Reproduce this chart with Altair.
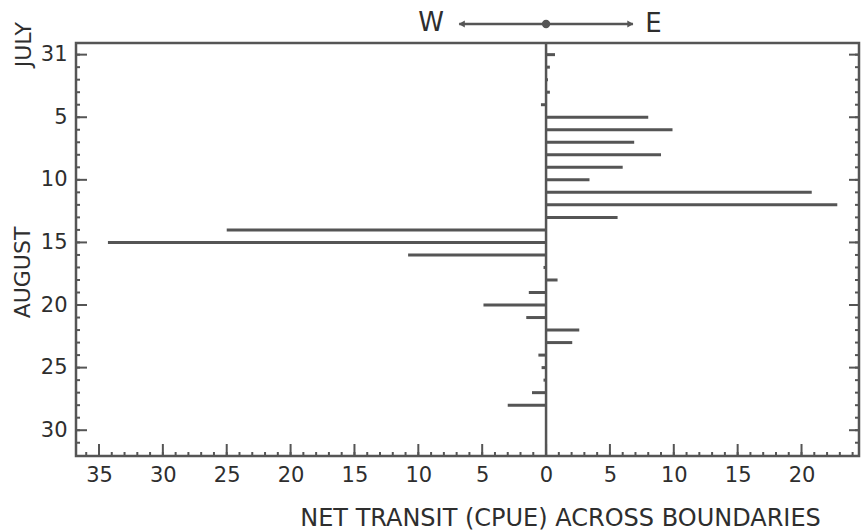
import altair as alt
import pandas as pd

# Day index: 0 = July 31, 1..31 = August 1..31
days = list(range(0, 29))
net_transit = [0.7, 0.3, 0.15, 0.3, -0.4, 8.0, 9.9, 6.9, 9.0, 6.0, 3.4, 20.8, 22.8, 5.6,
               -25.0, -34.3, -10.8, -0.2, 0.9, -1.35, -4.9, -1.55, 2.6, 2.05,
               -0.6, -0.35, -0.2, -1.1, -3.0]

x_major = [-35, -30, -25, -20, -15, -10, -5, 0, 5, 10, 15, 20]
x_minor = list(range(-36, 25))
y_major = [0, 5, 10, 15, 20, 25, 30]
y_minor = list(range(0, 32))

x_domain = [-36.8, 24.5]
y_domain = [-0.93, 32.06]

W, H = 783, 413
FONT = "DejaVu Sans"
INK = "#2e2e2e"
GRAY = "#555555"

df = pd.DataFrame({"day": days, "value": net_transit})

xs = alt.Scale(domain=x_domain, nice=False, zero=False)
ys = alt.Scale(domain=y_domain, nice=False, zero=False, reverse=True)

x_axis = alt.Axis(values=x_major, labelExpr="abs(datum.value)", domain=False, ticks=False,
                  tickSize=0, grid=False, labelFontSize=21, labelFont=FONT, labelColor=INK,
                  labelPadding=8, title="NET TRANSIT (CPUE) ACROSS BOUNDARIES",
                  titleFont=FONT, titleFontSize=24, titleFontWeight="normal", titleColor=INK,
                  titleX=484, titleY=62, titleAlign="center", titleBaseline="middle")
y_axis = alt.Axis(values=y_major, labelExpr="datum.value == 0 ? '31' : datum.value",
                  domain=False, ticks=False, tickSize=0, grid=False, labelFontSize=21,
                  labelFont=FONT, labelColor=INK, labelPadding=9, title=None)

bars = alt.Chart(df).mark_rule(strokeWidth=3, color=GRAY).encode(
    x=alt.X("value:Q", scale=xs, axis=x_axis),
    x2=alt.datum(0),
    y=alt.Y("day:Q", scale=ys, axis=y_axis),
)

zero_line = alt.Chart(pd.DataFrame({"z": [0]})).mark_rule(strokeWidth=2.5, color=GRAY).encode(
    x=alt.X("z:Q", scale=xs)
)

ymaj = pd.DataFrame({"d": y_major})
ymin = pd.DataFrame({"d": y_minor})
xmaj = pd.DataFrame({"v": x_major})
xmin = pd.DataFrame({"v": x_minor})

left_major = alt.Chart(ymaj).mark_rule(strokeWidth=2, color=GRAY).encode(
    y=alt.Y("d:Q", scale=ys), x=alt.value(0), x2=alt.value(11))
left_minor = alt.Chart(ymin).mark_rule(strokeWidth=2, color=GRAY).encode(
    y=alt.Y("d:Q", scale=ys), x=alt.value(0), x2=alt.value(4))
right_major = alt.Chart(ymaj).mark_rule(strokeWidth=2, color=GRAY).encode(
    y=alt.Y("d:Q", scale=ys), x=alt.value(W), x2=alt.value(W - 10))
right_minor = alt.Chart(ymin).mark_rule(strokeWidth=2, color=GRAY).encode(
    y=alt.Y("d:Q", scale=ys), x=alt.value(W), x2=alt.value(W - 4))
bottom_major = alt.Chart(xmaj).mark_rule(strokeWidth=2, color=GRAY).encode(
    x=alt.X("v:Q", scale=xs), y=alt.value(H), y2=alt.value(H - 12))
bottom_minor = alt.Chart(xmin).mark_rule(strokeWidth=2, color=GRAY).encode(
    x=alt.X("v:Q", scale=xs), y=alt.value(H), y2=alt.value(H - 4))

one = pd.DataFrame({"k": [0]})

july = alt.Chart(one).mark_text(text="JULY", angle=270, font=FONT, fontSize=22, color=INK,
                                align="center", baseline="middle").encode(
    x=alt.value(-52), y=alt.Y(datum=-0.8, scale=ys))
august = alt.Chart(one).mark_text(text="AUGUST", angle=270, font=FONT, fontSize=22, color=INK,
                                  align="center", baseline="middle").encode(
    x=alt.value(-53), y=alt.Y(datum=17.4, scale=ys))

w_text = alt.Chart(one).mark_text(text="W", font=FONT, fontSize=26, color=INK,
                                  align="center", baseline="middle").encode(
    x=alt.X(datum=-9.0, scale=xs), y=alt.value(-20))
e_text = alt.Chart(one).mark_text(text="E", font=FONT, fontSize=26, color=INK,
                                  align="center", baseline="middle").encode(
    x=alt.X(datum=8.4, scale=xs), y=alt.value(-19))
arrow_line = alt.Chart(one).mark_rule(strokeWidth=2.5, color=GRAY).encode(
    x=alt.X(datum=-6.8, scale=xs), x2=alt.datum(6.8), y=alt.value(-19))
arrow_left = alt.Chart(one).mark_point(shape="triangle-left", filled=True, size=50,
                                       color=GRAY, opacity=1).encode(
    x=alt.X(datum=-6.6, scale=xs), y=alt.value(-19))
arrow_right = alt.Chart(one).mark_point(shape="triangle-right", filled=True, size=50,
                                        color=GRAY, opacity=1).encode(
    x=alt.X(datum=6.6, scale=xs), y=alt.value(-19))
dot = alt.Chart(one).mark_point(shape="circle", filled=True, size=70, color=GRAY,
                                opacity=1).encode(
    x=alt.X(datum=0, scale=xs), y=alt.value(-19))

chart = alt.layer(
    bars, zero_line, left_major, left_minor, right_major, right_minor,
    bottom_major, bottom_minor, july, august, w_text, e_text, arrow_line,
    arrow_left, arrow_right, dot
).properties(
    width=W, height=H,
    padding={"left": 76, "top": 43, "right": 4, "bottom": 75},
    autosize=alt.AutoSizeParams(type="none"),
    background="white",
).configure_view(stroke=GRAY, strokeWidth=2.5)

chart.save("out.html", embed_options={"renderer": "svg", "actions": False})
